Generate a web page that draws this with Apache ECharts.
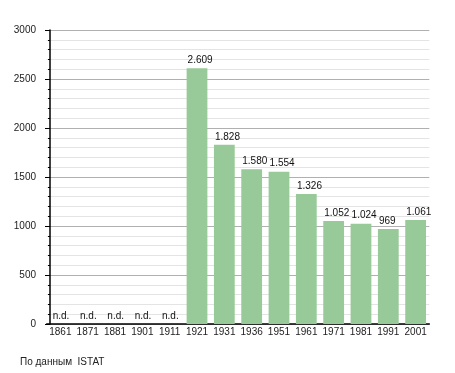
<!DOCTYPE html>
<html><head><meta charset="utf-8">
<script src="https://cdn.jsdelivr.net/npm/echarts@6/dist/echarts.min.js"></script>
<style>html,body{margin:0;padding:0;background:#fff}#c{width:455px;height:373px}</style>
</head><body><div id="c"></div>
<script>
const years = ['1861','1871','1881','1901','1911','1921','1931','1936','1951','1961','1971','1981','1991','2001'];
const population = [null,null,null,null,null,2609,1828,1580,1554,1326,1052,1024,969,1061];
const yTicks = [0,500,1000,1500,2000,2500,3000];
const sourceNote = 'По данным  ISTAT';
const FONT = 'Liberation Sans, Arial, sans-serif';
function fmt(v){ return String(v).replace(/\B(?=(\d{3})+(?!\d))/g,'.'); }
const chart = echarts.init(document.getElementById('c'), null, {renderer:'canvas'});
chart.setOption({
  animation:false,
  textStyle:{fontFamily:FONT},
  grid:{left:46.7,right:25.7,top:30,bottom:49,containLabel:false},
  xAxis:{type:'category',data:years,
    axisLine:{lineStyle:{color:'#000',width:1.5}},
    axisTick:{show:false},
    axisLabel:{color:'#222',fontSize:10,fontFamily:FONT,margin:3,interval:0}
  },
  yAxis:{type:'value',min:yTicks[0],max:yTicks[yTicks.length-1],interval:500,offset:-3.3,
    axisLine:{show:true,lineStyle:{color:'#000',width:1.5}},
    axisTick:{show:true,length:5,lineStyle:{color:'#000'}},
    minorTick:{show:true,splitNumber:5,length:2,lineStyle:{color:'#000'}},
    splitLine:{lineStyle:{color:'#b0b0b0'}},
    minorSplitLine:{show:true,lineStyle:{color:'#e4e4e4'}},
    axisLabel:{color:'#222',fontSize:10,fontFamily:FONT,margin:14,formatter:v=>String(v)}
  },
  series:[{type:'bar',barCategoryGap:'24%',
    data:population.map(v=>v===null
      ?{value:0,label:{offset:[-7.7,0]}}
      :v),
    itemStyle:{color:'#98c998'},
    label:{show:true,position:'top',distance:3,align:'left',offset:[-9.4,0],color:'#111',fontSize:10,fontFamily:FONT,
      formatter:p=>population[p.dataIndex]===null?'n.d.':fmt(p.value)}
  }],
  graphic:[{type:'text',left:20,top:357,style:{text:sourceNote,fill:'#222',font:'10px '+FONT}}]
});
</script></body></html>
